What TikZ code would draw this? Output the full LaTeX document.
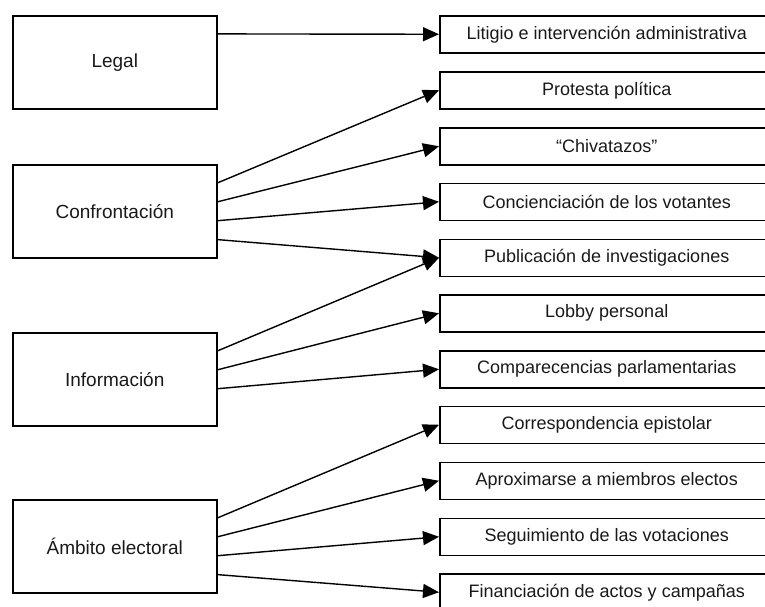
\documentclass[tikz,border=0pt]{standalone}
\usepackage{fontspec}
\setmainfont{Liberation Sans}
\usetikzlibrary{calc,arrows.meta}
\begin{document}
\begin{tikzpicture}[x=1pt,y=-1pt,
  leftbox/.style={draw=black,line width=1.5pt,minimum width=204pt,minimum height=93pt,anchor=north west,inner sep=0pt,font=\fontsize{19}{22}\selectfont,text=black!90},
  rightbox/.style={draw=black,line width=1.5pt,minimum width=334pt,minimum height=37pt,anchor=north west,inner sep=0pt,font=\fontsize{18}{21}\selectfont,text=black!90},
  conn/.style={line width=1.4pt,-{Triangle[length=16pt,width=14pt]}}]
\useasboundingbox (0,0) rectangle (765,606);
\clip (0,0) rectangle (765,606);
\node[leftbox] (legal) at (12,15) {Legal};
\node[leftbox] (conf) at (12,164) {Confrontación};
\node[leftbox] (info) at (12,332) {Información};
\node[leftbox] (amb) at (12,499) {Ámbito electoral};
\node[rightbox] (r1) at (439,15) {Litigio e intervención administrativa};
\node[rightbox] (r2) at (439,71) {Protesta política};
\node[rightbox] (r3) at (439,127) {“Chivatazos”};
\node[rightbox] (r4) at (439,182.5) {Concienciación de los votantes};
\node[rightbox] (r5) at (439,238.5) {Publicación de investigaciones};
\node[rightbox] (r6) at (439,294) {Lobby personal};
\node[rightbox] (r7) at (439,350) {Comparecencias parlamentarias};
\node[rightbox] (r8) at (439,405.5) {Correspondencia epistolar};
\node[rightbox] (r9) at (439,461.5) {Aproximarse a miembros electos};
\node[rightbox] (r10) at (439,517.5) {Seguimiento de las votaciones};
\node[rightbox] (r11) at (439,573) {Financiación de actos y campañas};
\draw[conn] ($(legal.north east)!0.2!(legal.south east)$) -- (r1.west);
\draw[conn] ($(conf.north east)!0.2!(conf.south east)$) -- (r2.west);
\draw[conn] ($(conf.north east)!0.4!(conf.south east)$) -- (r3.west);
\draw[conn] ($(conf.north east)!0.6!(conf.south east)$) -- (r4.west);
\draw[conn] ($(conf.north east)!0.8!(conf.south east)$) -- (r5.west);
\draw[conn] ($(info.north east)!0.2!(info.south east)$) -- (r5.west);
\draw[conn] ($(info.north east)!0.4!(info.south east)$) -- (r6.west);
\draw[conn] ($(info.north east)!0.6!(info.south east)$) -- (r7.west);
\draw[conn] ($(amb.north east)!0.2!(amb.south east)$) -- (r8.west);
\draw[conn] ($(amb.north east)!0.4!(amb.south east)$) -- (r9.west);
\draw[conn] ($(amb.north east)!0.6!(amb.south east)$) -- (r10.west);
\draw[conn] ($(amb.north east)!0.8!(amb.south east)$) -- (r11.west);
\end{tikzpicture}
\end{document}
